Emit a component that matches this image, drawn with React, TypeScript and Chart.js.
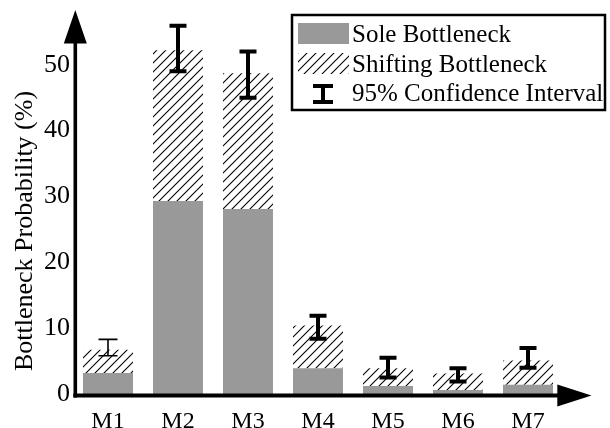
import React, { useEffect, useRef } from 'react';
import { Chart, registerables } from 'chart.js';

Chart.register(...registerables);

const categories = ['M1', 'M2', 'M3', 'M4', 'M5', 'M6', 'M7'];
const soleValues = [3.2, 29.3, 28.1, 3.9, 1.2, 0.6, 1.4];
const shiftingValues = [3.5, 22.9, 20.6, 6.5, 2.7, 2.5, 3.7];
const ciLow = [5.8, 49.0, 45.0, 8.4, 2.5, 1.9, 4.0];
const ciHigh = [8.3, 55.9, 52.0, 11.9, 5.5, 3.9, 7.0];
const yTickValues = [0, 10, 20, 30, 40, 50];
const legendLabels = ['Sole Bottleneck', 'Shifting Bottleneck', '95% Confidence Interval'];
const yTitle = 'Bottleneck Probability (%)';

const FONT = '"Liberation Serif", "Times New Roman", serif';

function makeHatch(): CanvasPattern | string {
  const c = document.createElement('canvas');
  c.width = 9;
  c.height = 9;
  const g = c.getContext('2d');
  if (!g) return '#fff';
  g.strokeStyle = '#000';
  g.lineWidth = 1.1;
  g.beginPath();
  g.moveTo(-1, 10);
  g.lineTo(10, -1);
  g.moveTo(-1, 1);
  g.lineTo(1, -1);
  g.moveTo(8, 10);
  g.lineTo(10, 8);
  g.stroke();
  const p = g.createPattern(c, 'repeat');
  return p || '#fff';
}

export default function App() {
  const ref = useRef<HTMLCanvasElement | null>(null);

  useEffect(() => {
    if (!ref.current) return;
    document.body.style.margin = '0';
    const hatch = makeHatch();

    const overlay = {
      id: 'overlay',
      afterDraw(chart: any) {
        const ctx = chart.ctx as CanvasRenderingContext2D;
        const area = chart.chartArea;
        const xs = chart.scales.x;
        const ys = chart.scales.y;
        ctx.save();
        ctx.fillStyle = '#000';
        ctx.strokeStyle = '#000';

        // error bars
        categories.forEach((_, i) => {
          const x = xs.getPixelForValue(i);
          const yh = ys.getPixelForValue(ciHigh[i]);
          const yl = ys.getPixelForValue(ciLow[i]);
          const thin = i === 0;
          const w = thin ? 1.6 : 4;
          const half = thin ? 9.5 : 8.5;
          ctx.lineWidth = w;
          ctx.beginPath();
          ctx.moveTo(x, yh);
          ctx.lineTo(x, yl);
          ctx.moveTo(x - half, yh);
          ctx.lineTo(x + half, yh);
          ctx.moveTo(x - half, yl);
          ctx.lineTo(x + half, yl);
          ctx.stroke();
        });

        // axes with arrows
        const ax = area.left + 2.3;
        const ay = area.bottom + 1.5;
        ctx.lineWidth = 3.6;
        ctx.beginPath();
        ctx.moveTo(ax, ay + 2);
        ctx.lineTo(ax, 40);
        ctx.stroke();
        ctx.beginPath();
        ctx.moveTo(ax, 10);
        ctx.lineTo(ax - 11.5, 43.5);
        ctx.lineTo(ax + 11.5, 43.5);
        ctx.closePath();
        ctx.fill();

        ctx.lineWidth = 4;
        ctx.beginPath();
        ctx.moveTo(ax - 2, ay);
        ctx.lineTo(560, ay);
        ctx.stroke();
        ctx.beginPath();
        ctx.moveTo(591.5, ay);
        ctx.lineTo(557.3, ay - 11);
        ctx.lineTo(557.3, ay + 11);
        ctx.closePath();
        ctx.fill();

        // y title
        ctx.save();
        ctx.translate(25, 231);
        ctx.rotate(-Math.PI / 2);
        ctx.font = `26px ${FONT}`;
        ctx.textAlign = 'center';
        ctx.textBaseline = 'middle';
        ctx.fillText(yTitle, 0, 0);
        ctx.restore();

        // legend
        ctx.lineWidth = 2.5;
        ctx.fillStyle = '#fff';
        ctx.fillRect(292, 15, 313, 95);
        ctx.strokeRect(292, 15, 313, 95);
        ctx.fillStyle = '#999999';
        ctx.fillRect(298, 23, 51, 21);
        ctx.fillStyle = hatch as any;
        ctx.fillRect(298, 53, 51, 21);
        ctx.fillStyle = '#000';
        ctx.lineWidth = 4;
        ctx.beginPath();
        ctx.moveTo(323, 86);
        ctx.lineTo(323, 102);
        ctx.moveTo(313, 86);
        ctx.lineTo(333, 86);
        ctx.moveTo(313, 102);
        ctx.lineTo(333, 102);
        ctx.stroke();
        ctx.font = `25px ${FONT}`;
        ctx.textAlign = 'left';
        ctx.textBaseline = 'middle';
        const rowY = [35, 65, 94];
        legendLabels.forEach((t, i) => ctx.fillText(t, 352, rowY[i]));
        ctx.restore();
      },
    };

    const chart = new Chart(ref.current, {
      type: 'bar',
      data: {
        labels: categories,
        datasets: [
          {
            label: legendLabels[0],
            data: soleValues,
            backgroundColor: '#999999',
            borderWidth: 0,
            barPercentage: 0.714,
            categoryPercentage: 1,
          },
          {
            label: legendLabels[1],
            data: shiftingValues,
            backgroundColor: hatch as any,
            borderWidth: 0,
            barPercentage: 0.714,
            categoryPercentage: 1,
          },
        ],
      },
      options: {
        responsive: false,
        animation: false,
        layout: { padding: { top: 17, right: 47, left: 0, bottom: 0 } },
        plugins: { legend: { display: false }, tooltip: { enabled: false } },
        scales: {
          x: {
            stacked: true,
            grid: { display: false, drawTicks: false },
            border: { display: false },
            ticks: { color: '#000', font: { family: FONT, size: 24 }, padding: 13 },
            afterFit(scale: any) {
              scale.height = 34;
            },
          },
          y: {
            stacked: true,
            min: 0,
            max: 57,
            grid: { display: false, drawTicks: false },
            border: { display: false },
            ticks: { color: '#000', font: { family: FONT, size: 26 }, padding: 3 },
            afterBuildTicks(scale: any) {
              scale.ticks = yTickValues.map((v) => ({ value: v }));
            },
            afterFit(scale: any) {
              scale.width = 73;
            },
          },
        },
      },
      plugins: [overlay],
    });

    return () => chart.destroy();
  }, []);

  return (
    <canvas
      ref={ref}
      width={610}
      height={428}
      style={{ position: 'absolute', left: 0, top: 0, display: 'block', width: 610, height: 428 }}
    />
  );
}
